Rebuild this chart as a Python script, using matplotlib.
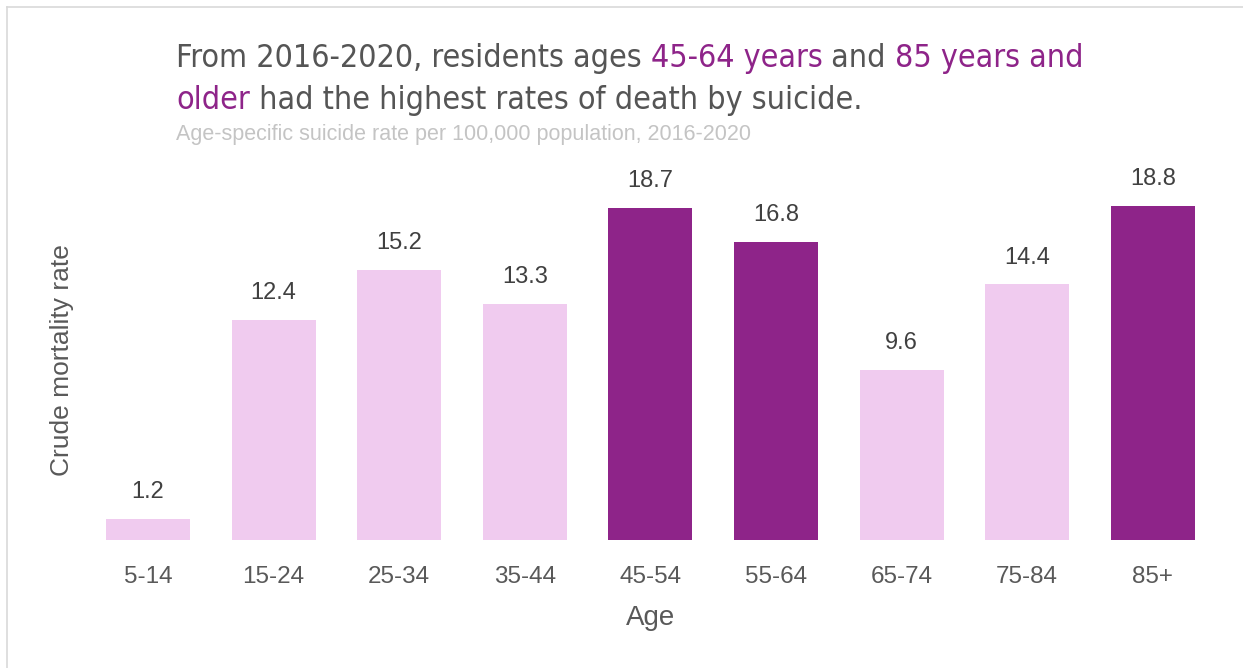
import matplotlib
matplotlib.use("Agg")
import matplotlib.pyplot as plt
from matplotlib import font_manager
from matplotlib.lines import Line2D

# Data
ages = ["5-14", "15-24", "25-34", "35-44", "45-54", "55-64", "65-74", "75-84", "85+"]
rates = [1.2, 12.4, 15.2, 13.3, 18.7, 16.8, 9.6, 14.4, 18.8]
highlight = ["45-54", "55-64", "85+"]

purple = "#8e2489"
pink = "#f0cbef"
dark = "#555555"

plt.rcParams["font.family"] = "Liberation Sans"

# title font: a condensed face if one is installed, otherwise a smaller regular one
title_props = dict(family="Liberation Sans", fontsize=22.5)
cond = font_manager.FontProperties(family="DejaVu Sans", stretch="condensed")
try:
    path = font_manager.findfont(cond, fallback_to_default=False)
    if "Condensed" in path:
        title_props = dict(family="DejaVu Sans", fontstretch="condensed", fontsize=23)
except Exception:
    pass

W, H = 1243, 668
fig = plt.figure(figsize=(W / 100, H / 100), dpi=100)


def fx(px):
    return px / W


def fy(py):
    return 1 - py / H


ax = fig.add_axes([fx(85.2), fy(540), 1130.4 / W, 355 / H])

colors = [purple if a in highlight else pink for a in ages]
bars = ax.bar(range(len(ages)), rates, width=0.67, color=colors)

for b, v in zip(bars, rates):
    ax.annotate(f"{v:.1f}", (b.get_x() + b.get_width() / 2, b.get_height()),
                xytext=(0, 15), textcoords="offset points",
                ha="center", va="baseline", fontsize=17, color="#404040")

ax.set_xlim(-0.5, len(ages) - 0.5)
ax.set_ylim(0, 20)
ax.set_xticks(range(len(ages)))
ax.set_xticklabels(ages, fontsize=17.5, color="#595959")
ax.tick_params(axis="x", length=0, pad=19)
ax.set_yticks([])
for s in ax.spines.values():
    s.set_visible(False)

ax.set_xlabel("Age", fontsize=20, color="#595959", labelpad=12)
ax.set_ylabel("Crude mortality rate", fontsize=19, color="#595959")
ax.yaxis.set_label_coords(-0.0097, (540 - 360) / 355)

# frame lines (top and left)
fig.add_artist(Line2D([fx(7), 1], [fy(7), fy(7)], color="#d9d9d9", lw=1.2))
fig.add_artist(Line2D([fx(7), fx(7)], [fy(7), 0], color="#d9d9d9", lw=1.2))

# multi-colour title
lines = [
    [("From 2016-2020, residents ages ", dark), ("45-64 years", purple),
     (" and ", dark), ("85 years and", purple)],
    [("older", purple), (" had the highest rates of death by suicide.", dark)],
]
baselines = [67, 109]
renderer = fig.canvas.get_renderer()
for parts, base in zip(lines, baselines):
    x = fx(176)
    for txt, col in parts:
        t = fig.text(x, fy(base), txt, color=col, va="baseline", ha="left",
                     **title_props)
        bb = t.get_window_extent(renderer)
        x = bb.x1 / W

fig.text(fx(176), fy(140), "Age-specific suicide rate per 100,000 population, 2016-2020",
         fontsize=15.5, color="#c4c4c4", va="baseline", ha="left")

fig.savefig("out.png", dpi=100, facecolor="white")
